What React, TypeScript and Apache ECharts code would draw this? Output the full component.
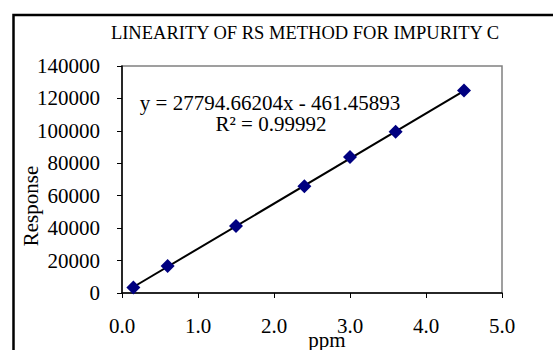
import React, { useEffect, useRef } from "react";
import * as echarts from "echarts";

const ppm = [0.15, 0.6, 1.5, 2.4, 3.0, 3.6, 4.5];
const response = [3400, 16600, 41300, 65800, 83800, 99400, 124900];
const slope = 27794.66204;
const intercept = -461.45893;
const rSquared = "0.99992";
const titleText = "LINEARITY OF RS METHOD FOR IMPURITY C";
const xTicks = [0, 1, 2, 3, 4, 5];
const yTicks = [0, 20000, 40000, 60000, 80000, 100000, 120000, 140000];

const FONT = "Liberation Serif";

export default function App() {
  const ref = useRef<HTMLDivElement>(null);
  useEffect(() => {
    if (!ref.current) return;
    const chart = echarts.init(ref.current, undefined, { renderer: "svg" });
    const xMin = ppm[0];
    const xMax = ppm[ppm.length - 1];
    const trend = [
      [xMin, slope * xMin + intercept],
      [xMax, slope * xMax + intercept],
    ];
    chart.setOption({
      animation: false,
      backgroundColor: "#ffffff",
      textStyle: { fontFamily: FONT, color: "#000" },
      grid: {
        left: 122,
        right: 51,
        top: 66,
        bottom: 57,
        show: true,
        borderColor: "#808080",
        borderWidth: 1.5,
        backgroundColor: "#ffffff",
      },
      xAxis: {
        type: "value",
        min: xTicks[0],
        max: xTicks[xTicks.length - 1],
        interval: 1,
        axisLine: { show: true, onZero: false, lineStyle: { color: "#000", width: 1.5 } },
        axisTick: { show: true, inside: false, length: 5, lineStyle: { color: "#000", width: 1 } },
        axisLabel: {
          margin: 22,
          fontSize: 21,
          fontFamily: FONT,
          color: "#000",
          formatter: (v: number) => v.toFixed(1),
        },
        splitLine: { show: false },
      },
      yAxis: {
        type: "value",
        min: yTicks[0],
        max: yTicks[yTicks.length - 1],
        interval: 20000,
        axisLine: { show: true, onZero: false, lineStyle: { color: "#000", width: 1.5 } },
        axisTick: { show: true, inside: false, length: 5, lineStyle: { color: "#000", width: 1 } },
        axisLabel: {
          margin: 22,
          fontSize: 21,
          fontFamily: FONT,
          color: "#000",
          formatter: (v: number) => String(v),
        },
        splitLine: { show: false },
      },
      series: [
        {
          type: "line",
          data: trend,
          symbol: "none",
          lineStyle: { color: "#000", width: 2 },
          z: 2,
        },
        {
          type: "scatter",
          data: ppm.map((x, i) => [x, response[i]]),
          symbol: "diamond",
          symbolSize: 14,
          itemStyle: { color: "#000080", opacity: 1 },
          z: 3,
        },
      ],
      graphic: [
        {
          type: "rect",
          shape: { x: 13.5, y: 15, width: 600, height: 400 },
          style: { fill: "none", stroke: "#000", lineWidth: 2.5 },
          z: 100,
        },
        {
          type: "text",
          x: 305,
          y: 33,
          style: {
            text: titleText,
            fontSize: 18.5,
            fontFamily: FONT,
            fill: "#000",
            textAlign: "center",
            textVerticalAlign: "middle",
          },
        },
        {
          type: "text",
          x: 270,
          y: 103,
          z: 50,
          style: {
            text: `y = ${slope.toFixed(5)}x - ${Math.abs(intercept).toFixed(5)}`,
            fontSize: 21,
            lineHeight: 19,
            fontFamily: FONT,
            fill: "#000",
            textAlign: "center",
            textVerticalAlign: "middle",
          },
        },
        {
          type: "text",
          x: 271,
          y: 124,
          z: 50,
          style: {
            text: `R² = ${rSquared}`,
            fontSize: 21,
            lineHeight: 19,
            fontFamily: FONT,
            fill: "#000",
            textAlign: "center",
            textVerticalAlign: "middle",
          },
        },
        {
          type: "text",
          x: 31,
          y: 206,
          rotation: Math.PI / 2,
          style: {
            text: "Response",
            fontSize: 21,
            fontFamily: FONT,
            fill: "#000",
            textAlign: "center",
            textVerticalAlign: "middle",
          },
        },
        {
          type: "text",
          x: 327,
          y: 340,
          style: {
            text: "ppm",
            fontSize: 21,
            lineHeight: 18,
            fontFamily: FONT,
            fill: "#000",
            textAlign: "center",
            textVerticalAlign: "middle",
          },
        },
      ],
    });
    return () => chart.dispose();
  }, []);
  return (
    <div
      ref={ref}
      style={{ position: "fixed", left: 0, top: 0, width: 553, height: 350 }}
    />
  );
}
